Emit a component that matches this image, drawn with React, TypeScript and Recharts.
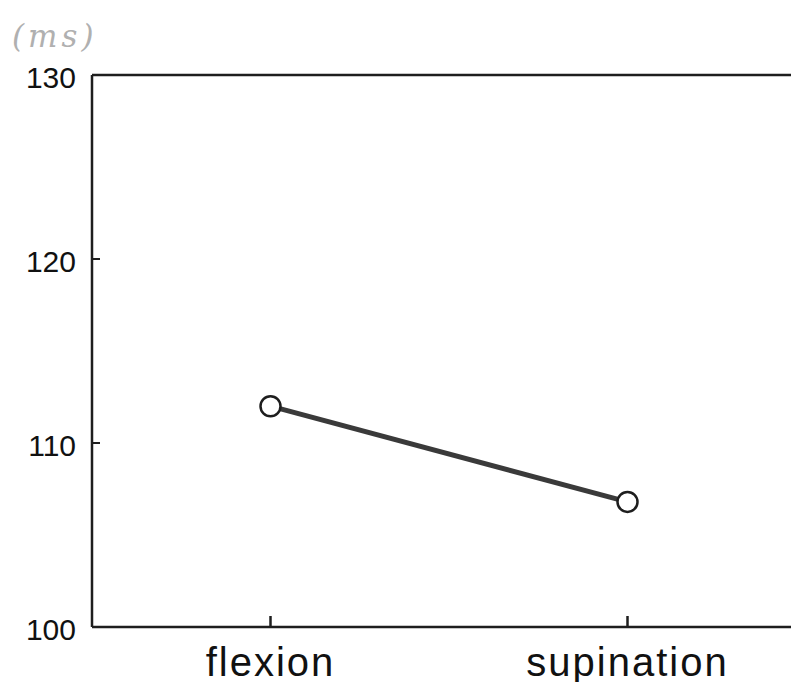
import React from 'react';
import { LineChart, Line, XAxis, YAxis, ReferenceLine } from 'recharts';

const movements = ['flexion', 'supination'];
const latencyMs = [112.0, 106.8];
const yTicks = [100, 110, 120, 130];

const data = movements.map((name, i) => ({ name, value: latencyMs[i] }));

const font = '"Liberation Sans", Arial, Helvetica, sans-serif';
const ink = '#1e1e1e';

// gap between axis line and tick text, ticks are drawn pointing into the plot
const Y_GAP = 16;
const X_GAP = 21;

const YTick = (props: any) => {
  const { x, y, payload } = props;
  const ax = x + Y_GAP;
  return (
    <g>
      <line x1={ax} y1={y} x2={ax + 8} y2={y} stroke={ink} strokeWidth={2} />
      <text x={x} y={y} dy={13} textAnchor="end" fill="#111" fontSize={30} fontFamily={font}>
        {payload.value}
      </text>
    </g>
  );
};

const XTick = (props: any) => {
  const { x, y, payload } = props;
  const ay = y - X_GAP;
  return (
    <g>
      <line x1={x} y1={ay} x2={x} y2={ay - 11} stroke={ink} strokeWidth={2.5} />
      <text x={x} y={y} dy="0.71em" textAnchor="middle" fill="#111" fontSize={40} fontFamily={font} letterSpacing={2}>
        {payload.value}
      </text>
    </g>
  );
};

const App: React.FC = () => {
  return (
    <div
      style={{
        position: 'relative',
        width: 783,
        height: 682,
        marginBottom: -8,
        overflow: 'hidden',
        background: '#fff',
      }}
    >
      <div
        style={{
          position: 'absolute',
          left: 4,
          top: 10,
          fontFamily: '"DejaVu Serif", serif',
          fontStyle: 'italic',
          fontSize: 31,
          color: '#b0b0b0',
          letterSpacing: 4,
        }}
      >
        (ms)
      </div>
      <LineChart width={820} height={682} data={data} margin={{ top: 67, right: 22, bottom: 8, left: 0 }}>
        <ReferenceLine y={130} stroke={ink} strokeWidth={2.5} />
        <XAxis
          dataKey="name"
          type="category"
          scale="band"
          axisLine={{ stroke: ink, strokeWidth: 2.5 }}
          tickLine={false}
          tickSize={0}
          tickMargin={X_GAP}
          height={55}
          tick={<XTick />}
        />
        <YAxis
          type="number"
          domain={[100, 130]}
          ticks={yTicks}
          width={84}
          axisLine={{ stroke: ink, strokeWidth: 2.5 }}
          tickLine={false}
          tickSize={0}
          tickMargin={Y_GAP}
          tick={<YTick />}
        />
        <Line
          dataKey="value"
          stroke="#3a3a3a"
          strokeWidth={5}
          dot={{ r: 10, fill: '#fff', stroke: ink, strokeWidth: 2.5 }}
          activeDot={false}
          isAnimationActive={false}
        />
      </LineChart>
    </div>
  );
};

export default App;
